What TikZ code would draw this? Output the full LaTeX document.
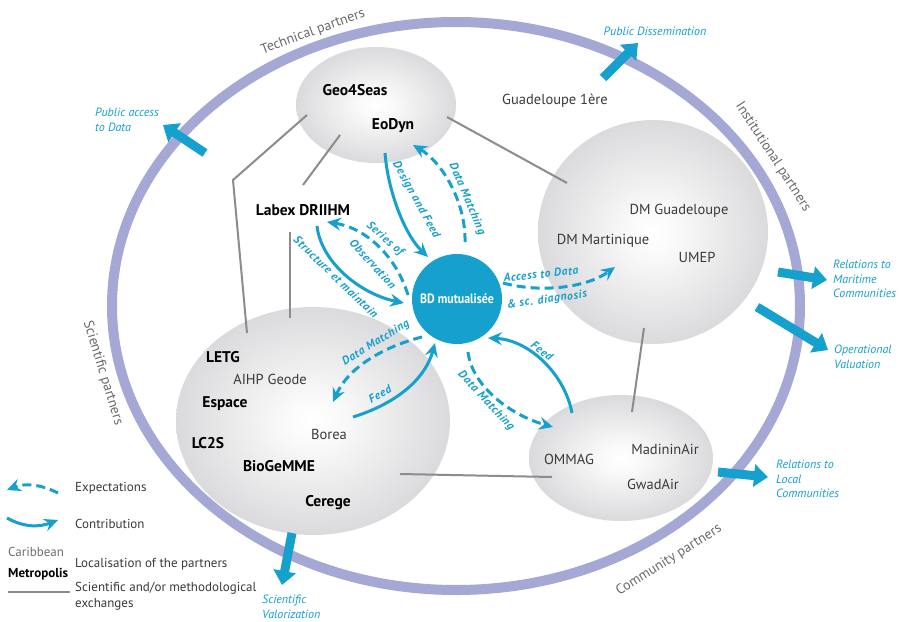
\documentclass[tikz,border=0pt]{standalone}
\usepackage{fontspec}
\setmainfont{PT Sans}
\newfontfamily\lblfont{PT Sans}[LetterSpace=6]
\usetikzlibrary{arrows.meta,shapes.geometric}
\definecolor{bdblue}{RGB}{22,160,206}
\definecolor{ringc}{RGB}{165,167,212}
\definecolor{linegray}{RGB}{140,140,140}
\definecolor{txtgray}{RGB}{58,58,58}
\definecolor{ringtext}{RGB}{105,105,105}
\definecolor{cargray}{RGB}{110,110,110}
\pgfdeclareradialshading{ballsh}{\pgfpoint{0bp}{0bp}}{rgb(0bp)=(1,1,1);rgb(5bp)=(0.98,0.98,0.98);rgb(26bp)=(0.85,0.85,0.86);rgb(44bp)=(0.71,0.71,0.72);rgb(50bp)=(0.65,0.65,0.66)}
\begin{document}
\begin{tikzpicture}[x=1pt,y=-1pt,
  ring/.style={draw=ringc, line width=10pt},
  ball/.style={ellipse, shading=ballsh, draw=none, inner sep=0pt},
  bname/.style={font=\bfseries\fontsize{15.5}{17}\selectfont, text=black, inner sep=0pt},
  rname/.style={font=\fontsize{14.5}{17}\selectfont, text=txtgray, inner sep=0pt},
  glink/.style={draw=linegray, line width=2pt},
  contrib/.style={draw=bdblue, line width=3pt, -{Stealth[length=14pt,width=13pt,inset=5pt]}},
  expect/.style={contrib, dash pattern=on 9pt off 5pt},
  alabel/.style={font=\lblfont\bfseries\itshape\fontsize{11.5}{13}\selectfont, text=bdblue, inner sep=0pt, align=center},
  bigarrow/.style={draw=bdblue, line width=9pt, -{Triangle[length=14pt,width=22pt]}},
  olabel/.style={font=\itshape\fontsize{12}{14.5}\selectfont, text=bdblue, align=left, inner sep=0pt},
  ringlabel/.style={font=\fontsize{14}{16}\selectfont, text=ringtext, inner sep=0pt},
  legtext/.style={font=\fontsize{13}{15.5}\selectfont, text=txtgray, anchor=west, inner sep=0pt, align=left}
]
\useasboundingbox (0,0) rectangle (902,621);
\fill[white] (0,0) rectangle (902,621);

% outer ring
\draw[ring] (456,306) ellipse [x radius=344pt, y radius=284pt];
\node[ringlabel, rotate=20] (lt) at (313,32) {Technical partners};
\node[ringlabel, rotate=-57] (li) at (773,157) {Institutional partners};
\node[ringlabel, rotate=-73] (ls) at (103,373) {Scientific partners};
\node[ringlabel, rotate=32] (lc) at (669,560) {Community partners};

% gray exchange lines (behind balls)
\coordinate (g1a) at (307,115);
\coordinate (g1b) at (233,180);
\coordinate (g1c) at (247,333);
\coordinate (g2a) at (340,135);
\coordinate (g2b) at (303,185);
\coordinate (g3a) at (290,232);
\coordinate (g3b) at (290,318);
\coordinate (g4a) at (447,117);
\coordinate (g4b) at (567,183);
\coordinate (g5a) at (644,328);
\coordinate (g5b) at (632,412);
\coordinate (g6a) at (400,474);
\coordinate (g6b) at (552,477);

% balls
\node[ball, minimum width=160pt, minimum height=116pt] (b1) at (376,105) {};
\node[ball, minimum width=230pt, minimum height=224pt] (b2) at (653,232) {};
\node[ball, minimum width=274pt, minimum height=228pt] (b3) at (313,421) {};
\node[ball, minimum width=184pt, minimum height=126pt] (b4) at (621,458) {};

\draw[glink] (g1a) -- (g1b) -- (g1c);
\draw[glink] (g2a) -- (g2b);
\draw[glink] (g3a) -- (g3b);
\draw[glink] (g4a) -- (g4b);
\draw[glink] (g5a) -- (g5b);
\draw[glink] (g6a) -- (g6b);

% partner names
\node[bname] (geo) at (355,90) {Geo4Seas};
\node[bname] (eod) at (393,126) {EoDyn};
\node[rname] (g1e) at (555,101) {Guadeloupe 1ère};
\node[bname] (lab) at (303,210) {Labex DRIIHM};
\node[rname] (dmg) at (679,211) {DM Guadeloupe};
\node[rname] (dmm) at (603,241) {DM Martinique};
\node[rname] (umep) at (697,257) {UMEP};
\node[bname] (letg) at (223,357) {LETG};
\node[rname] (aihp) at (270,379) {AIHP Geode};
\node[bname] (esp) at (225,404) {Espace};
\node[bname] (lc2s) at (208,443) {LC2S};
\node[rname] (bor) at (329,434) {Borea};
\node[bname] (bio) at (279,466) {BioGeMME};
\node[bname] (cer) at (328,503) {Cerege};
\node[rname] (omm) at (569,459) {OMMAG};
\node[rname] (mad) at (665,449) {MadininAir};
\node[rname] (gwa) at (653,484) {GwadAir};

% central database
\node[circle, fill=bdblue, minimum size=90pt, inner sep=0pt, text=white,
      font=\bfseries\fontsize{13.5}{15}\selectfont] (bd) at (457,299) {\scalebox{0.88}[1]{BD mutualisée}};

% flow arrows
\coordinate (dfA) at (385,153);
\coordinate (dfB) at (428,257);
\draw[contrib] (dfA) .. controls (388,192) and (405,235) .. (dfB);
\node[alabel, rotate=-61] (dfL) at (416,200) {Design and Feed};

\coordinate (dmA) at (465,242);
\coordinate (dmB) at (413,145);
\draw[expect] (dmA) .. controls (466,202) and (442,162) .. (dmB);
\node[alabel, rotate=-67] (dmL) at (467,199) {Data Matching};

\coordinate (soA) at (408,295);
\coordinate (soB) at (327,222);
\draw[expect] (soA) .. controls (396,256) and (366,228) .. (soB);
\node[alabel, rotate=-41] (soL1) at (385,239) {Series of};
\node[alabel, rotate=-48] (soL2) at (373,264) {Observation};

\coordinate (smA) at (317,226);
\coordinate (smB) at (404,303);
\draw[contrib] (smA) .. controls (321,262) and (360,294) .. (smB);
\node[alabel, rotate=-44] (smL) at (336,277) {Structure et maintain};

\coordinate (adA) at (503,283);
\coordinate (adB) at (615,267);
\draw[expect] (adA) .. controls (540,293) and (586,288) .. (adB);
\node[alabel, rotate=6] (adL1) at (541,274) {Access to Data};
\node[alabel, rotate=8] (adL2) at (547,300) {\& sc. diagnosis};

\coordinate (d3A) at (422,337);
\coordinate (d3B) at (333,402);
\draw[expect] (d3A) .. controls (390,345) and (350,364) .. (d3B);
\node[alabel, rotate=32] (d3L) at (376,343) {Data Matching};

\coordinate (f3A) at (353,417);
\coordinate (f3B) at (435,343);
\draw[contrib] (f3A) .. controls (395,404) and (425,380) .. (f3B);
\node[alabel, rotate=30] (f3L) at (380,394) {Feed};

\coordinate (d4A) at (468,352);
\coordinate (d4B) at (553,427);
\draw[expect] (d4A) .. controls (472,386) and (510,415) .. (d4B);
\node[alabel, rotate=-47] (d4L) at (486,401) {Data Matching};

\coordinate (f4A) at (572,413);
\coordinate (f4B) at (488,338);
\draw[contrib] (f4A) .. controls (565,375) and (530,340) .. (f4B);
\node[alabel, rotate=-38] (f4L) at (542,351) {Feed};

% outward arrows
\coordinate (paA) at (205,153); \coordinate (paB) at (163,125);
\draw[bigarrow] (paA) -- (paB);
\node[olabel, anchor=west] (paL) at (95,120) {Public access\\to Data};

\coordinate (pdA) at (603,78); \coordinate (pdB) at (638,43);
\draw[bigarrow] (pdA) -- (pdB);
\node[olabel] (pdL) at (655,31) {Public Dissemination};

\coordinate (rmA) at (778,272); \coordinate (rmB) at (827,280);
\draw[bigarrow] (rmA) -- (rmB);
\node[olabel, anchor=west] (rmL) at (833,279) {Relations to\\Maritime\\Communities};

\coordinate (ovA) at (757,307); \coordinate (ovB) at (828,350);
\draw[bigarrow] (ovA) -- (ovB);
\node[olabel, anchor=west] (ovL) at (834,357) {Operational\\Valuation};

\coordinate (rlA) at (718,472); \coordinate (rlB) at (768,477);
\draw[bigarrow] (rlA) -- (rlB);
\node[olabel, anchor=west] (rlL) at (776,479) {Relations to\\Local\\Communities};

\coordinate (svA) at (292,533); \coordinate (svB) at (282,585);
\draw[bigarrow] (svA) -- (svB);
\node[olabel, anchor=west] (svL) at (262,607) {Scientific\\Valorization};

% legend
\coordinate (leA) at (58,493); \coordinate (leB) at (7,490);
\draw[expect] (leA) .. controls (40,484) and (25,483) .. (leB);
\node[legtext] (leT) at (75,488) {Expectations};
\coordinate (lcA) at (7,518); \coordinate (lcB) at (58,520);
\draw[contrib] (lcA) .. controls (25,528) and (40,527) .. (lcB);
\node[legtext] (lcT) at (75,524) {Contribution};
\node[legtext, text=cargray] (lcar) at (8,552) {Caribbean};
\node[legtext, text=black, font=\bfseries\fontsize{13}{15.5}\selectfont] (lmet) at (8,574) {Metropolis};
\node[legtext] (lloc) at (75,564) {Localisation of the partners};
\coordinate (lgA) at (8,592); \coordinate (lgB) at (70,592);
\draw[glink, line width=2.5pt] (lgA) -- (lgB);
\node[legtext] (lsci) at (75,596) {Scientific and/or methodological\\exchanges};
\end{tikzpicture}
\end{document}
